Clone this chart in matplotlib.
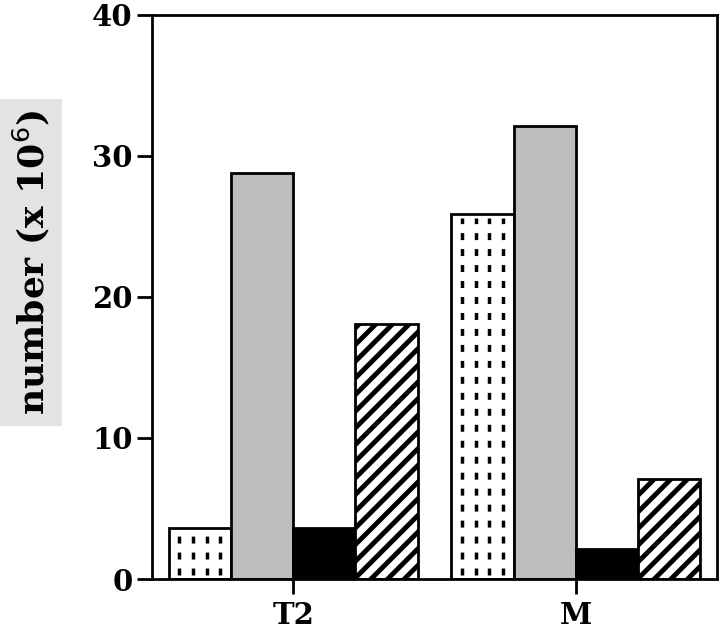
import matplotlib

matplotlib.use("Agg")
import matplotlib.pyplot as plt
import numpy as np

groups = ["T2", "M"]
dotted = [3.6, 25.9]
gray = [28.8, 32.1]
black = [3.6, 2.1]
striped = [18.1, 7.1]
yticks = [0, 10, 20, 30, 40]

plt.rcParams["font.family"] = ["DejaVu Serif"]
plt.rcParams["hatch.linewidth"] = 3.5

fig = plt.figure(figsize=(7.2, 6.41), dpi=100)
ax = fig.add_axes([0.211, 0.0967, 0.785, 0.88])

x = np.arange(len(groups))
w = 0.22
edge = dict(edgecolor="black", linewidth=2)
ax.bar(x - 1.5 * w, dotted, w, color="white", **edge)
# dotted fill: short vertical dashes in columns
for xc, h in zip(x - 1.5 * w, dotted):
    cols = xc + np.array([-0.33, -0.11, 0.11, 0.33]) * w
    ax.vlines(cols, 0.3, h - 0.3, colors="black", linewidth=2.5,
              linestyles=(0, (2.0, 2.6)), zorder=3)
ax.bar(x - 0.5 * w, gray, w, color="#bdbdbd", **edge)
ax.bar(x + 0.5 * w, black, w, color="black", **edge)
ax.bar(x + 1.5 * w, striped, w, color="white", hatch="//", **edge)

ax.set_xlim(-0.5, 1.5)
ax.set_ylim(0, 40)
ax.set_yticks(yticks)
ax.set_xticks(x)
ax.set_xticklabels(groups)
for s in ax.spines.values():
    s.set_linewidth(2)
ax.tick_params(axis="both", direction="out", length=11, width=2, labelsize=21)
ax.tick_params(axis="y", pad=3)
ax.tick_params(axis="x", pad=5)
for lab in ax.get_xticklabels() + ax.get_yticklabels():
    lab.set_fontweight("bold")

fig.text(0.043, 0.59, "number (x 10$^6$)", rotation=90, ha="center", va="center",
         fontsize=26, fontweight="bold",
         bbox=dict(boxstyle="square,pad=0.3", facecolor="#e3e3e3", edgecolor="none"))

fig.savefig("out.png")
